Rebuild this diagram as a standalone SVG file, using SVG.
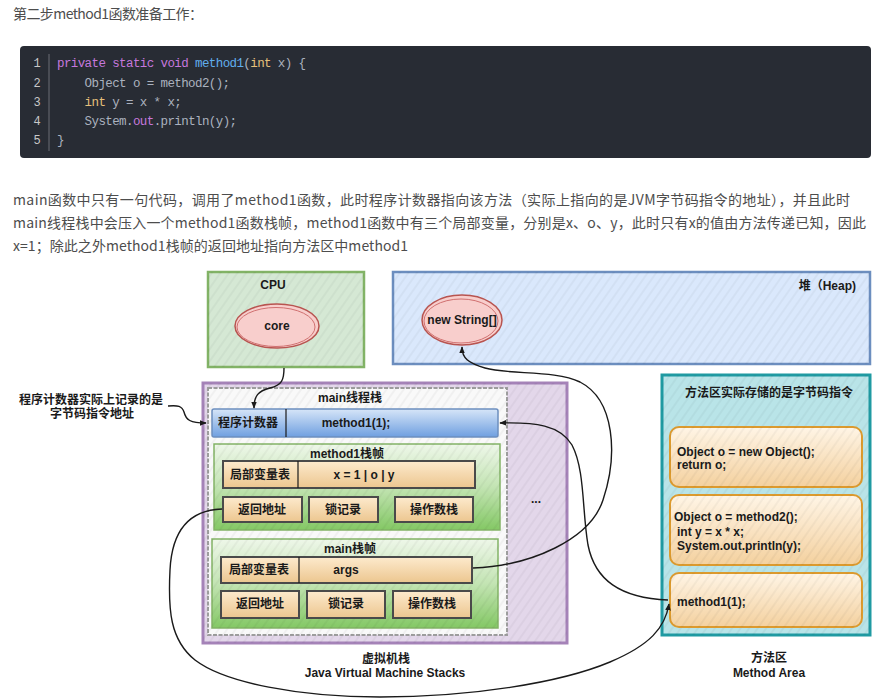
<svg xmlns="http://www.w3.org/2000/svg" width="881" height="698" viewBox="0 0 881 698">
<defs>
<style>
.t{font-family:"Liberation Sans","Noto Sans CJK SC",sans-serif;font-weight:bold;font-size:12px;fill:#1a1a1a}
.c{text-anchor:middle}
.para{font-family:"Noto Sans CJK SC","Liberation Sans",sans-serif;font-size:14px;fill:#4d4d4d}
.code{font-family:"Liberation Mono",monospace;font-size:12.5px;letter-spacing:-0.6px;fill:#abb2bf}
.kw{fill:#c678dd}.fn{fill:#61aeee}.ty{fill:#e6c07b}
.ln{font-family:"Liberation Mono",monospace;font-size:12px;fill:#c8c8c8;text-anchor:middle}
.conn{fill:none;stroke:#1a1a1a;stroke-width:1.4}
.hatch{fill:url(#hatch);stroke:none}
.cell{stroke:#4a4a4a;stroke-width:2;fill:url(#gCell)}
.mbox{stroke:#dc9a2e;stroke-width:2;fill:url(#gMbox)}
.frame{stroke:#82b366;stroke-width:1.5;fill:url(#gGreen)}
.ell{fill:#f8cecc;stroke:#b85450;stroke-width:1.5}
.ell2{fill:none;stroke:#d07070;stroke-width:1}
</style>
<pattern id="hatch" width="7" height="7" patternUnits="userSpaceOnUse" patternTransform="rotate(35)">
<line x1="1" y1="0" x2="1" y2="7" stroke="#000" stroke-opacity="0.07" stroke-width="1"/>
</pattern>
<linearGradient id="gGreen" x1="0" y1="0" x2="0" y2="1">
<stop offset="0" stop-color="#eef7e9"/><stop offset="0.5" stop-color="#c3e4b3"/><stop offset="1" stop-color="#84c865"/>
</linearGradient>
<linearGradient id="gBlue" x1="0" y1="0" x2="0" y2="1">
<stop offset="0" stop-color="#d6e5f8"/><stop offset="1" stop-color="#6f9fe0"/>
</linearGradient>
<linearGradient id="gCell" x1="0" y1="0" x2="0" y2="1">
<stop offset="0" stop-color="#fdeacd"/><stop offset="1" stop-color="#ecc68f"/>
</linearGradient>
<linearGradient id="gMbox" x1="0" y1="0" x2="0" y2="1">
<stop offset="0" stop-color="#fff5e6"/><stop offset="1" stop-color="#f4d19f"/>
</linearGradient>
<marker id="arr" viewBox="0 0 10 10" refX="9" refY="5" markerWidth="7" markerHeight="7" orient="auto" markerUnits="userSpaceOnUse">
<path d="M0,1 L10,5 L0,9 z" fill="#1a1a1a"/>
</marker>
</defs>

<rect x="0" y="0" width="881" height="698" fill="#ffffff"/>

<!-- page text -->
<g id="page-title">
<text class="para" x="13" y="19" textLength="190">第二步method1函数准备工作：</text>
</g>

<g id="code-block">
<rect x="20" y="46" width="851" height="112" rx="4" fill="#282c34"/>
<line x1="49" y1="54" x2="49" y2="151" stroke="#6a6d74" stroke-width="1"/>
<text class="ln" x="37" y="67">1</text>
<text class="ln" x="37" y="87">2</text>
<text class="ln" x="37" y="106">3</text>
<text class="ln" x="37" y="125">4</text>
<text class="ln" x="37" y="144">5</text>
<text class="code" x="57" y="67" xml:space="preserve"><tspan class="kw">private static void</tspan> <tspan class="fn">method1</tspan>(<tspan class="ty">int</tspan> x) {</text>
<text class="code" x="84.6" y="87">Object o = method2();</text>
<text class="code" x="84.6" y="106" xml:space="preserve"><tspan class="ty">int</tspan> y = x * x;</text>
<text class="code" x="84.6" y="125">System.<tspan class="kw">out</tspan>.println(y);</text>
<text class="code" x="57" y="144">}</text>
</g>

<g id="paragraph">
<text class="para" x="13" y="205" textLength="837">main函数中只有一句代码，调用了method1函数，此时程序计数器指向该方法（实际上指向的是JVM字节码指令的地址），并且此时</text>
<text class="para" x="13" y="228" textLength="853">main线程栈中会压入一个method1函数栈帧，method1函数中有三个局部变量，分别是x、o、y，此时只有x的值由方法传递已知，因此</text>
<text class="para" x="13" y="251" textLength="395">x=1；除此之外method1栈帧的返回地址指向方法区中method1</text>
</g>

<!-- CPU -->
<g id="cpu">
<rect x="208" y="272" width="156" height="95" fill="#d5e8d4" stroke="#82b366" stroke-width="2.5"/>
<rect x="208" y="272" width="156" height="95" class="hatch"/>
<text class="t c" x="273" y="289">CPU</text>
<g id="core">
<ellipse class="ell" cx="277" cy="326" rx="42" ry="22"/>
<ellipse class="ell2" cx="276" cy="327" rx="39" ry="19.5"/>
<text class="t c" x="277" y="330">core</text>
</g>
</g>

<!-- Heap -->
<g id="heap">
<rect x="393" y="272" width="477" height="92" fill="#dae8fc" stroke="#6c8ebf" stroke-width="2.5"/>
<rect x="393" y="272" width="477" height="92" class="hatch"/>
<text class="t" x="856" y="290" text-anchor="end">堆（Heap)</text>
<g id="new-string">
<ellipse class="ell" cx="462" cy="320" rx="40" ry="25"/>
<ellipse class="ell2" cx="461" cy="321" rx="37" ry="22"/>
<text class="t c" x="462" y="324">new String[]</text>
</g>
</g>

<!-- JVM stacks -->
<g id="jvm-stacks">
<rect x="203" y="383" width="364" height="260" fill="#e3d7ea" stroke="#a583b8" stroke-width="3"/>
<rect x="203" y="383" width="364" height="260" class="hatch"/>
<text class="t c" x="536" y="503">...</text>
<text class="t c" x="386" y="663">虚拟机栈</text>
<text class="t c" x="385" y="677">Java Virtual Machine Stacks</text>
</g>

<g id="main-thread-stack">
<rect x="208" y="388" width="299" height="247" fill="#f9f9f9" stroke="#9d9d9d" stroke-width="2" stroke-dasharray="4 1.5"/>
<rect x="208" y="388" width="299" height="247" class="hatch"/>
<text class="t c" x="350" y="402">main线程栈</text>
</g>

<g id="pc-register">
<rect x="212" y="409" width="286" height="28" rx="2" fill="url(#gBlue)" stroke="#6c8ebf" stroke-width="1.5"/>
<line x1="286" y1="409" x2="286" y2="437" stroke="#1a1a1a" stroke-width="1.2"/>
<text class="t c" x="248" y="427">程序计数器</text>
<text class="t c" x="356" y="427">method1(1);</text>
</g>

<g id="method1-frame">
<rect class="frame" x="214" y="444" width="286" height="86"/>
<rect x="214" y="444" width="286" height="86" class="hatch"/>
<text class="t c" x="347" y="458">method1栈帧</text>
<rect class="cell" x="223" y="461" width="252" height="27"/>
<line x1="298" y1="461" x2="298" y2="488" stroke="#1a1a1a" stroke-width="1.2"/>
<text class="t c" x="260" y="479">局部变量表</text>
<text class="t c" x="364" y="479">x = 1 | o | y</text>
<g id="m1-return"><rect class="cell" x="223" y="497" width="79" height="25"/><text class="t c" x="262" y="514">返回地址</text></g>
<g id="m1-lock"><rect class="cell" x="309" y="497" width="69" height="25"/><text class="t c" x="343" y="514">锁记录</text></g>
<g id="m1-operand"><rect class="cell" x="395" y="497" width="78" height="25"/><text class="t c" x="434" y="514">操作数栈</text></g>
</g>

<g id="main-frame">
<rect class="frame" x="212" y="539" width="286" height="89"/>
<rect x="212" y="539" width="286" height="89" class="hatch"/>
<text class="t c" x="350" y="553">main栈帧</text>
<rect class="cell" x="221" y="557" width="251" height="26"/>
<line x1="299" y1="557" x2="299" y2="583" stroke="#1a1a1a" stroke-width="1.2"/>
<text class="t c" x="259" y="574">局部变量表</text>
<text class="t c" x="346" y="574">args</text>
<g id="main-return"><rect class="cell" x="221" y="591" width="78" height="27"/><text class="t c" x="260" y="608">返回地址</text></g>
<g id="main-lock"><rect class="cell" x="307" y="591" width="78" height="27"/><text class="t c" x="346" y="608">锁记录</text></g>
<g id="main-operand"><rect class="cell" x="393" y="591" width="78" height="27"/><text class="t c" x="432" y="608">操作数栈</text></g>
</g>

<!-- Method area -->
<g id="method-area">
<rect x="662" y="375" width="208" height="260" fill="#b9e4e8" stroke="#1f9aa2" stroke-width="3"/>
<rect x="662" y="375" width="208" height="260" class="hatch"/>
<text class="t c" x="769" y="397">方法区实际存储的是字节码指令</text>
<text class="t c" x="769" y="662">方法区</text>
<text class="t c" x="769" y="677">Method Area</text>
</g>
<g id="method2-code">
<rect class="mbox" x="670" y="427" width="192" height="60" rx="9"/>
<rect x="670" y="427" width="192" height="60" rx="9" class="hatch"/>
<text class="t" x="677" y="456">Object o = new Object();</text>
<text class="t" x="677" y="469">return o;</text>
</g>
<g id="method1-code">
<rect class="mbox" x="670" y="495" width="192" height="70" rx="9"/>
<rect x="670" y="495" width="192" height="70" rx="9" class="hatch"/>
<text class="t" x="674" y="521">Object o = method2();</text>
<text class="t" x="677" y="536">int y = x * x;</text>
<text class="t" x="677" y="550">System.out.println(y);</text>
</g>
<g id="main-code">
<rect class="mbox" x="670" y="573" width="192" height="54" rx="9"/>
<rect x="670" y="573" width="192" height="54" rx="9" class="hatch"/>
<text class="t" x="677" y="606">method1(1);</text>
</g>

<!-- annotation -->
<g id="pc-note">
<text class="t c" x="91" y="404">程序计数器实际上记录的是</text>
<text class="t c" x="92" y="418">字节码指令地址</text>
</g>

<!-- connectors -->
<g id="connectors">
<path class="conn" d="M284,368 C284,380 282,385 270,388 C258,391 254,396 254,408" marker-end="url(#arr)"/>
<path class="conn" d="M168,406 C178,405 182,406 184,412 C186,420 190,423 206,423" marker-end="url(#arr)"/>
<path class="conn" d="M473,568 C530,566 590,540 603,500 C618,455 615,400 580,382 C555,370 510,375 485,368 C468,363 462,358 462,347" marker-end="url(#arr)"/>
<path class="conn" d="M668,600 C620,598 595,580 588,545 C582,510 585,470 572,445 C560,425 535,422 500,423" marker-end="url(#arr)"/>
<path class="conn" d="M222,509 C190,510 172,530 170,570 C168,610 170,640 195,660 C225,683 300,697 380,697 C470,697 560,683 610,662 C650,645 665,628 669,604" marker-end="url(#arr)"/>
</g>
</svg>
